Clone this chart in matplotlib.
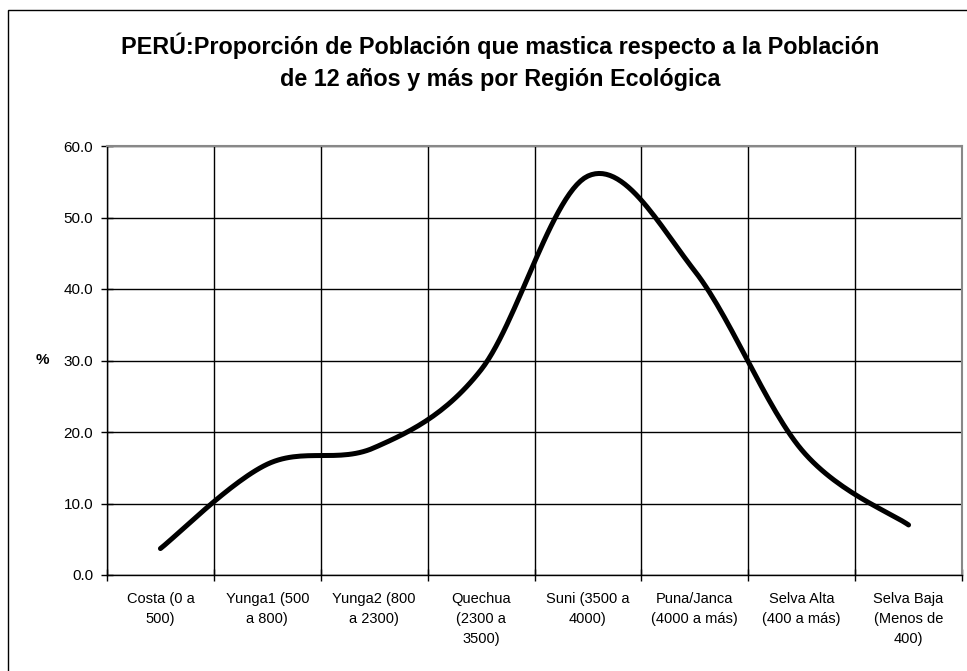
import numpy as np
import matplotlib
matplotlib.use("Agg")
import matplotlib.pyplot as plt
from matplotlib.patches import Rectangle

categories = ["Costa (0 a\n500)", "Yunga1 (500\na 800)", "Yunga2 (800\na 2300)",
              "Quechua\n(2300 a\n3500)", "Suni (3500 a\n4000)", "Puna/Janca\n(4000 a más)",
              "Selva Alta\n(400 a más)", "Selva Baja\n(Menos de\n400)"]
values = [3.7, 15.5, 17.8, 28.7, 55.8, 42.5, 17.5, 7.0]
yticks = [0, 10, 20, 30, 40, 50, 60]
title = "PERÚ:Proporción de Población que mastica respecto a la Población\nde 12 años y más por Región Ecológica"

plt.rcParams['font.family'] = ['Liberation Sans', 'DejaVu Sans']

def smooth(xs, ys, n=30):
    pts = np.column_stack([xs, ys]).astype(float)
    P = np.vstack([pts[0], pts, pts[-1]])
    out = []
    for i in range(1, len(P) - 2):
        p0, p1, p2, p3 = P[i-1], P[i], P[i+1], P[i+2]
        c1 = p1 + (p2 - p0) / 6.0
        c2 = p2 - (p3 - p1) / 6.0
        t = np.linspace(0, 1, n)[:, None]
        seg = (1-t)**3*p1 + 3*(1-t)**2*t*c1 + 3*(1-t)*t**2*c2 + t**3*p2
        out.append(seg if i == 1 else seg[1:])
    out = np.vstack(out)
    return out[:, 0], out[:, 1]

fig = plt.figure(figsize=(9.67, 6.71), dpi=100)
ax = fig.add_axes([107/967, 1-575/671, 855/967, (575-146)/671])

x = np.arange(len(values))
sx, sy = smooth(x, values)
ax.plot(sx, sy, color='black', lw=3.6, solid_capstyle='round', solid_joinstyle='round', zorder=3)

ax.set_xlim(-0.5, len(values) - 0.5)
ax.set_ylim(0, 60)
ax.set_yticks(yticks)
ax.set_yticklabels([f"{v:.1f}" for v in yticks], fontsize=11)
ax.set_xticks(np.arange(len(values) + 1) - 0.5)
ax.set_xticklabels([])
ax.set_xticks(x, minor=True)
ax.set_xticklabels(categories, minor=True, fontsize=10.5, linespacing=1.55, va='top')
ax.tick_params(axis='x', which='minor', length=0, pad=12)
ax.tick_params(axis='x', which='major', direction='inout', length=8, width=1)
ax.tick_params(axis='y', direction='inout', length=8, width=1, pad=6)
ax.grid(True, which='major', color='black', lw=1)
for s in ['top', 'right']:
    ax.spines[s].set_color('#888888')
    ax.spines[s].set_linewidth(1.5)
for s in ['left', 'bottom']:
    ax.spines[s].set_color('black')
    ax.spines[s].set_linewidth(1)
ax.set_ylabel('%', rotation=0, fontsize=11, fontweight='bold', va='center')
ax.yaxis.set_label_coords(-0.075, 0.5)

fig.text(500/967, 1-62/671, title, ha='center', va='center', fontsize=16.8, fontweight='bold', linespacing=1.5)

fig.patches.append(Rectangle((8/967, -0.1), 1.2, 1-10/671+0.1, transform=fig.transFigure,
                             fill=False, edgecolor='black', lw=1))

fig.savefig('out.png', dpi=100)
